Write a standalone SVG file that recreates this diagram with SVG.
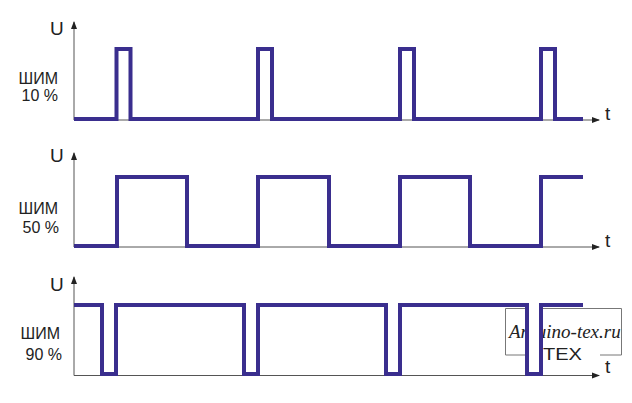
<svg xmlns="http://www.w3.org/2000/svg" width="632" height="403" viewBox="0 0 632 403">
<style>
.ax{stroke:#555;stroke-width:1;fill:none}
.wave{stroke:#3a2e8e;stroke-width:4;fill:none;stroke-linejoin:miter}
.lbl{font-family:"Liberation Sans",Arial,sans-serif;font-size:16px;fill:#222}
.big{font-family:"Liberation Sans",Arial,sans-serif;font-size:19px;fill:#222}
</style>
<defs>
<marker id="arr" viewBox="0 0 8 8" refX="7" refY="4" markerWidth="8" markerHeight="8" markerUnits="userSpaceOnUse" orient="auto">
<path d="M0,1 L8,4 L0,7 Z" fill="#222"/>
</marker>
</defs>
<rect width="632" height="403" fill="#fff"/>
<g id="axes">
<path class="ax" d="M74,120 V22" marker-end="url(#arr)"/>
<path class="ax" d="M74,120 H599" marker-end="url(#arr)"/>
<path class="ax" d="M74,247 V153" marker-end="url(#arr)"/>
<path class="ax" d="M74,247 H599" marker-end="url(#arr)"/>
<path class="ax" d="M74,375.5 V277" marker-end="url(#arr)"/>
<path class="ax" d="M74,375.5 H599" marker-end="url(#arr)"/>
</g>
<g id="labels1">
<text class="big" x="50" y="35">U</text>
<text class="lbl" x="58" y="84" text-anchor="end">ШИМ</text>
<text class="lbl" x="58" y="101" text-anchor="end">10 %</text>
<text class="big" x="605" y="120">t</text>
</g>
<g id="labels2">
<text class="big" x="50" y="162">U</text>
<text class="lbl" x="58" y="214" text-anchor="end">ШИМ</text>
<text class="lbl" x="59" y="233" text-anchor="end">50 %</text>
<text class="big" x="605" y="247">t</text>
</g>
<g id="labels3">
<text class="big" x="50" y="291">U</text>
<text class="lbl" x="60" y="339" text-anchor="end">ШИМ</text>
<text class="lbl" x="62" y="360" text-anchor="end">90 %</text>
<text class="big" x="605" y="373">t</text>
</g>
<g id="watermark">
<path d="M505.5,355 V308.5 H621.5 V355 H600 M533,355 H505.5" stroke="#777" stroke-width="1" fill="none"/>
<text x="509" y="338" font-family="'Liberation Serif','Times New Roman',serif" font-style="italic" font-size="19" fill="#222">Arduino-tex.ru</text>
<text x="543" y="360" font-family="'Liberation Sans',Arial,sans-serif" font-size="17" fill="#222" textLength="39" lengthAdjust="spacingAndGlyphs">TEX</text>
</g>
<g id="connectors">
<rect x="529" y="306" width="10" height="66" fill="#fff"/>
<path id="pwm10" class="wave" d="M74,119 H116.5 V49 H130.5 V119 H258 V49 H272 V119 H400 V49 H414 V119 H541 V49 H555 V119 H583"/>
<path id="pwm50" class="wave" d="M74,246 H117 V177 H187 V246 H258 V177 H329 V246 H400 V177 H470 V246 H541 V177 H583"/>
<path id="pwm90" class="wave" d="M74,305 H102 V374 H116 V305 H244 V374 H258 V305 H386 V374 H400 V305 H527 V374 H541 V305 H583"/>
</g>
</svg>
